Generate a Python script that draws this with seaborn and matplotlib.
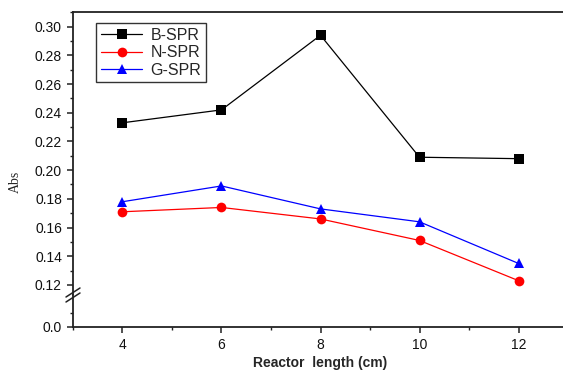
import numpy as np
import pandas as pd
import matplotlib
matplotlib.use("Agg")
import matplotlib.pyplot as plt
from matplotlib.ticker import MultipleLocator, FixedLocator, FormatStrFormatter
import seaborn as sns

# data
length_cm = [4, 6, 8, 10, 12]
b_spr = [0.233, 0.242, 0.294, 0.209, 0.208]
n_spr = [0.171, 0.174, 0.166, 0.151, 0.123]
g_spr = [0.178, 0.189, 0.173, 0.164, 0.135]
series_names = ["B-SPR", "N-SPR", "G-SPR"]

df = pd.DataFrame({
    "length": length_cm * 3,
    "abs": b_spr + n_spr + g_spr,
    "series": [s for s in series_names for _ in length_cm],
})

sns.set_style("ticks")
plt.rcParams["font.family"] = ["Liberation Sans", "DejaVu Sans"]

W, H = 563, 372
fig = plt.figure(figsize=(W / 100, H / 100), dpi=100)

left = 73 / W
width = 495 / W
y_break = 295
ax = fig.add_axes([left, (H - y_break) / H, width, (y_break - 12) / H])
ax_lo = fig.add_axes([left, (H - 327) / H, width, (327 - y_break) / H], sharex=ax)

palette = {"B-SPR": "black", "N-SPR": "red", "G-SPR": "blue"}
markers = {"B-SPR": "s", "N-SPR": "o", "G-SPR": "^"}
sns.lineplot(data=df, x="length", y="abs", hue="series", style="series",
             palette=palette, markers=markers, dashes=False, ax=ax,
             linewidth=0.9, markersize=7, markeredgewidth=0)

ax.set_xlim(3, 13)
ax.set_ylim(0.113, 0.3102)
ax_lo.set_ylim(0, 0.0223)

ax.yaxis.set_major_locator(FixedLocator([0.12, 0.14, 0.16, 0.18, 0.20, 0.22, 0.24, 0.26, 0.28, 0.30]))
ax.yaxis.set_minor_locator(MultipleLocator(0.01))
ax.yaxis.set_major_formatter(FormatStrFormatter("%.2f"))
ax_lo.yaxis.set_major_locator(FixedLocator([0.0]))
ax_lo.yaxis.set_minor_locator(FixedLocator([0.01]))
ax_lo.yaxis.set_major_formatter(FormatStrFormatter("%.1f"))
ax_lo.xaxis.set_major_locator(MultipleLocator(2))
ax_lo.xaxis.set_minor_locator(MultipleLocator(1))

for a in (ax, ax_lo):
    a.spines["right"].set_visible(False)
    for s in a.spines.values():
        s.set_linewidth(1.3)
        s.set_color("#222222")
    a.tick_params(which="major", direction="out", length=4.5, width=1.1,
                  labelsize=10, color="#222222", labelcolor="#111111")
    a.tick_params(which="minor", direction="out", length=2.5, width=1.0, color="#222222")

ax.spines["bottom"].set_visible(False)
ax.tick_params(axis="x", which="both", bottom=False, labelbottom=False)
ax_lo.spines["top"].set_visible(False)
ax.set_xlabel("")
ax.set_ylabel("")

ax_lo.set_xlabel("Reactor  length (cm)", fontsize=10, fontweight="bold", labelpad=3)
fig.text(15 / W, 1 - 182 / H, "Abs", rotation=90, ha="center", va="center",
         fontsize=10, family=["Liberation Serif", "DejaVu Serif"])

# break marks on the left spine
for dy in (-2.5, 2.5):
    x0, x1 = 66 / W, 80 / W
    yc = 1 - (y_break + dy) / H
    fig.add_artist(plt.Line2D([x0, x1], [yc - 4.5 / H, yc + 4.5 / H],
                              color="#222222", linewidth=1.1))

leg = ax.legend(loc="upper left", bbox_to_anchor=(23 / 495, 1 - 11 / 283),
                frameon=True, fancybox=False, fontsize=11.5,
                handlelength=2.6, handletextpad=0.5, borderpad=0.3,
                labelspacing=0.15, borderaxespad=0)
leg.get_frame().set_edgecolor("black")
leg.get_frame().set_linewidth(1.0)

fig.savefig("out.png", dpi=100)
